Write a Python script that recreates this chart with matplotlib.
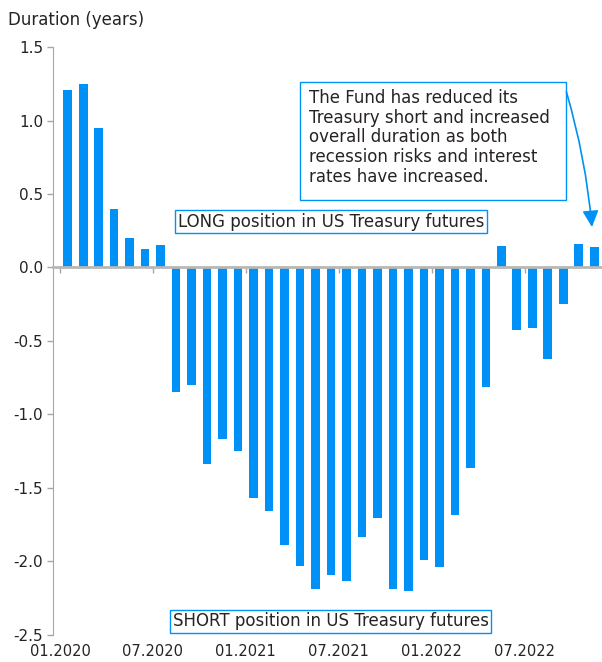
import numpy as np
import matplotlib.pyplot as plt
from matplotlib.patches import Rectangle

plt.rcParams["font.family"] = ["DejaVu Sans"]

# monthly duration of the Treasury futures position, 01.2020 - 11.2022
months = ["01.2020", "02.2020", "03.2020", "04.2020", "05.2020", "06.2020",
          "07.2020", "08.2020", "09.2020", "10.2020", "11.2020", "12.2020",
          "01.2021", "02.2021", "03.2021", "04.2021", "05.2021", "06.2021",
          "07.2021", "08.2021", "09.2021", "10.2021", "11.2021", "12.2021",
          "01.2022", "02.2022", "03.2022", "04.2022", "05.2022", "06.2022",
          "07.2022", "08.2022", "09.2022", "10.2022", "11.2022"]
duration = [1.21, 1.25, 0.95, 0.40, 0.20, 0.125, 0.155,
            -0.85, -0.80, -1.335, -1.165, -1.245, -1.565, -1.655,
            -1.885, -2.03, -2.19, -2.095, -2.135, -1.83, -1.705,
            -2.19, -2.20, -1.99, -2.04, -1.685, -1.365, -0.81,
            0.145, -0.425, -0.41, -0.62, -0.245, 0.16, 0.14]
tick_labels = ["01.2020", "07.2020", "01.2021", "07.2021", "01.2022", "07.2022"]

blue = "#0091f6"
txt = "#262322"
grey = "#a6a6a6"

fig = plt.figure(figsize=(6.02, 6.62), dpi=100)
ax = fig.add_axes([0.088, 0.0408, 0.912, 0.8882])

x = np.arange(len(months))
ax.bar(x, duration, width=0.56, color=blue, zorder=2)

ax.set_xlim(-0.95, 34.5)
ax.set_ylim(-2.5, 1.5)
yt = np.arange(-2.5, 1.51, 0.5)
ax.set_yticks(yt)
ax.set_yticklabels(["%.1f" % v for v in yt])
ax.tick_params(axis="y", labelsize=11, colors=grey, labelcolor=txt,
               length=4, width=1, pad=3)

for s in ["top", "right"]:
    ax.spines[s].set_visible(False)
ax.spines["left"].set_color(grey)

# zero line carries the tick marks, labels sit under the plot
pos = [months.index(m) - 0.5 for m in tick_labels]
ax.spines["bottom"].set_position(("data", 0))
ax.spines["bottom"].set_color("#b8b8b8")
ax.spines["bottom"].set_linewidth(2)
ax.set_xticks(pos)
ax.set_xticklabels([])
ax.tick_params(axis="x", direction="out", length=4, colors=grey, width=1)

lab = ax.secondary_xaxis("bottom")
lab.set_xticks(pos)
lab.set_xticklabels(tick_labels)
lab.tick_params(axis="x", length=0, labelsize=10.5, labelcolor=txt, pad=6.8)
for sp in lab.spines.values():
    sp.set_visible(False)

fig.text(0.013, 0.97, "Duration (years)", fontsize=12, color=txt, va="center")

box = dict(boxstyle="square,pad=0.15", fc="white", ec=blue, lw=1)
ax.text(17.0, 0.31, "LONG position in US Treasury futures", fontsize=12,
        color=txt, ha="center", va="center", bbox=box, zorder=3)
ax.text(17.0, -2.405, "SHORT position in US Treasury futures", fontsize=12,
        color=txt, ha="center", va="center", bbox=box, zorder=3)

note = ("The Fund has reduced its\nTreasury short and increased\n"
        "overall duration as both\nrecession risks and interest\n"
        "rates have increased.")
ax.add_patch(Rectangle((14.98, 0.462), 17.22, 0.80, fc="white", ec=blue,
                       lw=1, zorder=3))
ax.text(15.56, 1.215, note, fontsize=12, color=txt, ha="left", va="top",
        linespacing=1.12, zorder=4)

ax.annotate("", xy=(33.85, 0.275), xytext=(32.2, 1.195),
            arrowprops=dict(arrowstyle="-|>,head_length=0.55,head_width=0.27",
                            color=blue, lw=1.2,
                            mutation_scale=18, shrinkA=0, shrinkB=0,
                            connectionstyle="arc3,rad=-0.05"),
            zorder=4)

fig.savefig("out.png", dpi=100)
